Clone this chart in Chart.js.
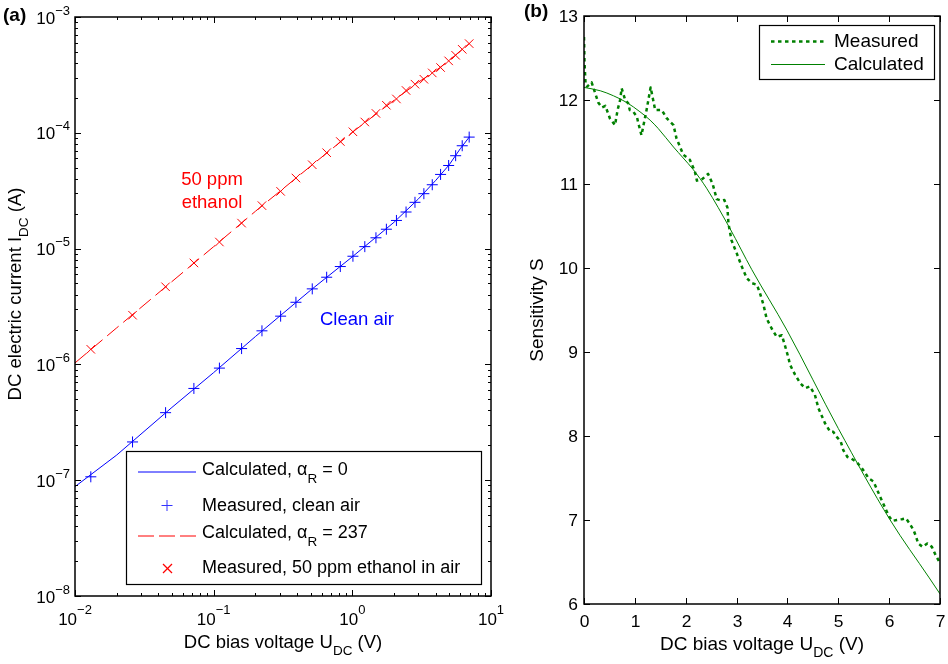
<!DOCTYPE html>
<html>
<head>
<meta charset="utf-8">
<script src="https://cdn.jsdelivr.net/npm/chart.js@4.4.0/dist/chart.umd.min.js"></script>
<style>
  body { margin:0; background:#fff; }
  #wrap { position:relative; width:948px; height:664px; }
  canvas { position:absolute; top:0; }
</style>
</head>
<body>
<div id="wrap">
  <canvas id="ivChart" width="520" height="664" style="left:0;width:520px;height:664px"></canvas>
  <canvas id="sensChart" width="428" height="664" style="left:520px;width:428px;height:664px"></canvas>
</div>
<script>
// (a) current vs voltage, log-log
const measuredU = [0.013, 0.026, 0.045, 0.072, 0.11, 0.159, 0.223, 0.304, 0.392, 0.514, 0.653, 0.819, 1.01,
                   1.23, 1.48, 1.76, 2.08, 2.44, 2.83, 3.28, 3.77, 4.33, 4.95, 5.56, 6.2, 6.96];
const cleanAirI = [1.07e-7, 2.14e-7, 3.83e-7, 6.2e-7, 9.29e-7, 1.37e-6, 1.95e-6, 2.61e-6, 3.44e-6, 4.49e-6, 5.66e-6,
                   7.0e-6, 8.59e-6, 1.04e-5, 1.24e-5, 1.47e-5, 1.75e-5, 2.07e-5, 2.51e-5, 2.98e-5, 3.56e-5, 4.37e-5,
                   5.22e-5, 6.34e-5, 7.73e-5, 9.18e-5];
const ethanolI = [1.35e-6, 2.66e-6, 4.68e-6, 7.52e-6, 1.14e-5, 1.66e-5, 2.35e-5, 3.12e-5, 4.07e-5, 5.30e-5, 6.73e-5,
                  8.41e-5, 1.02e-4, 1.24e-4, 1.47e-4, 1.73e-4, 1.96e-4, 2.32e-4, 2.63e-4, 2.9e-4, 3.29e-4, 3.66e-4,
                  4.18e-4, 4.67e-4, 5.26e-4, 5.89e-4];
const calcU = [0.01, 0.02, 0.05, 0.1, 0.2, 0.5, 1, 2, 3, 4, 5, 6, 7];
const calcCleanI = [8.8e-8, 1.65e-7, 4.25e-7, 8.5e-7, 1.74e-6, 4.37e-6, 8.5e-6, 1.69e-5, 2.69e-5, 3.89e-5, 5.3e-5, 7.28e-5, 9.25e-5];
const calcEthanolI = [1.03e-6, 2.07e-6, 5.19e-6, 1.04e-5, 2.1e-5, 5.15e-5, 1.01e-4, 1.91e-4, 2.74e-4, 3.44e-4, 4.22e-4, 5.08e-4, 5.92e-4];
const ivXTicks = [1e-2, 1e-1, 1, 10];
const ivYTicks = [1e-8, 1e-7, 1e-6, 1e-5, 1e-4, 1e-3];

// (b) sensitivity vs voltage
const sensMeasU = [0, 0.01, 0.03, 0.06, 0.15, 0.21, 0.28, 0.35, 0.42, 0.51, 0.61, 0.66, 0.71, 0.74, 0.81, 0.87, 0.9, 0.97,
                   1.04, 1.07, 1.13, 1.23, 1.31, 1.4, 1.53, 1.63, 1.76, 1.82, 1.89, 1.95, 2.08, 2.18, 2.22, 2.31, 2.44,
                   2.53, 2.61, 2.71, 2.76, 2.82, 2.84, 2.9, 3.0, 3.1, 3.2, 3.3, 3.4, 3.46, 3.53, 3.59, 3.69, 3.79, 3.89,
                   3.95, 4.02, 4.05, 4.15, 4.25, 4.35, 4.44, 4.54, 4.61, 4.74, 4.84, 4.9, 4.97, 5.05, 5.1, 5.18, 5.26,
                   5.36, 5.46, 5.53, 5.59, 5.69, 5.75, 5.82, 5.88, 5.94, 6.0, 6.07, 6.15, 6.25, 6.33, 6.4, 6.48, 6.53,
                   6.57, 6.66, 6.75, 6.84, 6.9, 6.97, 7.0];
const sensMeasS = [12.75, 12.45, 12.2, 12.16, 12.21, 12.1, 11.97, 11.91, 11.93, 11.78, 11.7, 11.88, 12.0, 12.14, 12.0,
                   11.96, 11.88, 11.86, 11.8, 11.72, 11.58, 11.88, 12.15, 11.88, 11.88, 11.78, 11.7, 11.54, 11.44, 11.35,
                   11.29, 11.15, 11.04, 11.05, 11.12, 11.0, 10.82, 10.8, 10.81, 10.72, 10.53, 10.33, 10.18, 10.02, 9.88,
                   9.82, 9.8, 9.7, 9.56, 9.4, 9.28, 9.18, 9.2, 9.08, 8.93, 8.85, 8.73, 8.63, 8.57, 8.59, 8.49, 8.33,
                   8.15, 8.05, 8.05, 7.99, 7.93, 7.83, 7.75, 7.73, 7.69, 7.62, 7.56, 7.5, 7.46, 7.38, 7.28, 7.2, 7.12,
                   7.04, 6.99, 7.0, 7.01, 7.02, 6.96, 6.88, 6.8, 6.72, 6.68, 6.72, 6.68, 6.6, 6.52, 6.48];
const sensCalcU = [0, 0.32, 0.58, 0.84, 1.1, 1.3, 1.46, 1.76, 1.95, 2.15, 2.41, 2.87, 3.3, 3.99, 5.0, 6.02, 6.79, 7.0];
const sensCalcS = [12.15, 12.11, 12.05, 11.97, 11.86, 11.76, 11.66, 11.44, 11.31, 11.17, 10.95, 10.47, 9.98, 9.26, 8.09, 7.0, 6.31, 6.12];
const sensXTicks = [0, 1, 2, 3, 4, 5, 6, 7];
const sensYTicks = [6, 7, 8, 9, 10, 11, 12, 13];

const FONT = '"Liberation Sans", Arial, Helvetica, sans-serif';
const pts = (xs, ys) => xs.map((x, i) => ({x: x, y: ys[i]}));

function richWidth(ctx, parts) {
  let w = 0;
  parts.forEach(p => { ctx.font = (p.bold ? 'bold ' : '') + p.size + 'px ' + FONT; w += ctx.measureText(p.t).width; });
  return w;
}
function drawRich(ctx, parts, x, y, align) {
  const w = richWidth(ctx, parts);
  let cx = align === 'center' ? x - w / 2 : align === 'right' ? x - w : x;
  ctx.textAlign = 'left';
  ctx.textBaseline = 'middle';
  parts.forEach(p => {
    ctx.font = (p.bold ? 'bold ' : '') + p.size + 'px ' + FONT;
    ctx.fillText(p.t, cx, y + (p.dy || 0));
    cx += ctx.measureText(p.t).width;
  });
}
function line(ctx, x1, y1, x2, y2) {
  ctx.beginPath(); ctx.moveTo(x1, y1); ctx.lineTo(x2, y2); ctx.stroke();
}
function powParts(v, dy) {
  const e = Math.round(Math.log10(v));
  return [{t: '10', size: 17}, {t: (e < 0 ? '\u2212' : '') + Math.abs(e), size: 13, dy: dy}];
}

const ivDecor = {
  id: 'ivDecor',
  afterDraw(chart) {
    const ctx = chart.ctx, a = chart.chartArea, xs = chart.scales.x, ys = chart.scales.y;
    ctx.save();
    ctx.strokeStyle = '#000';
    ctx.fillStyle = '#000';
    ctx.lineWidth = 1;
    // minor + major ticks, inward on all sides
    for (let e = -2; e <= 1; e++) {
      for (let m = 1; m <= 9; m++) {
        const v = m * Math.pow(10, e);
        if (v > 10.0001) break;
        const px = Math.round(xs.getPixelForValue(v)) + 0.5;
        const len = m === 1 ? 6 : 3;
        line(ctx, px, a.bottom, px, a.bottom - len);
        line(ctx, px, a.top, px, a.top + len);
      }
    }
    for (let e = -8; e <= -3; e++) {
      for (let m = 1; m <= 9; m++) {
        const v = m * Math.pow(10, e);
        if (v > 1.0001e-3) break;
        const py = Math.round(ys.getPixelForValue(v)) + 0.5;
        const len = m === 1 ? 6 : 3;
        line(ctx, a.left, py, a.left + len, py);
        line(ctx, a.right, py, a.right - len, py);
      }
    }
    ctx.lineWidth = 1.5;
    ctx.strokeRect(a.left, a.top, a.right - a.left, a.bottom - a.top);

    ivXTicks.forEach(v => drawRich(ctx, powParts(v, -10), xs.getPixelForValue(v), a.bottom + 24, 'center'));
    ivYTicks.forEach(v => drawRich(ctx, powParts(v, -8), a.left - 5, ys.getPixelForValue(v) + 2, 'right'));

    drawRich(ctx, [{t: 'DC bias voltage U', size: 18.5}, {t: 'DC', size: 13.5, dy: 8}, {t: ' (V)', size: 18.5}],
             (a.left + a.right) / 2, 643, 'center');
    ctx.save();
    ctx.translate(16, 294);
    ctx.rotate(-Math.PI / 2);
    drawRich(ctx, [{t: 'DC electric current I', size: 18.5}, {t: 'DC', size: 13.5, dy: 8}, {t: ' (A)', size: 18.5}], 0, 0, 'center');
    ctx.restore();

    drawRich(ctx, [{t: '(a)', size: 19, bold: true}], 3, 16, 'left');

    // annotations
    ctx.fillStyle = '#ff0000';
    drawRich(ctx, [{t: '50 ppm', size: 18.5}], 212, 180, 'center');
    drawRich(ctx, [{t: 'ethanol', size: 18.5}], 212, 203, 'center');
    ctx.fillStyle = '#0000ff';
    drawRich(ctx, [{t: 'Clean air', size: 18.5}], 357, 320, 'center');

    // legend
    ctx.fillStyle = '#fff';
    ctx.fillRect(126, 451, 356, 133);
    ctx.strokeStyle = '#000';
    ctx.lineWidth = 1.2;
    ctx.strokeRect(126.5, 451.5, 355, 133);
    ctx.lineWidth = 1;
    ctx.strokeStyle = '#0000ff';
    line(ctx, 138, 472, 196, 472);
    ctx.strokeStyle = '#3333ff';
    line(ctx, 161.5, 505.5, 172.5, 505.5);
    line(ctx, 167, 500, 167, 511);
    ctx.strokeStyle = '#ff0000';
    ctx.setLineDash([16, 5]);
    line(ctx, 138, 536, 196, 536);
    ctx.setLineDash([]);
    ctx.lineWidth = 1.3;
    line(ctx, 163, 564, 172, 573);
    line(ctx, 172, 564, 163, 573);
    ctx.fillStyle = '#000';
    drawRich(ctx, [{t: 'Calculated, \u03b1', size: 18}, {t: 'R', size: 13.5, dy: 9}, {t: ' = 0', size: 18}], 202, 470, 'left');
    drawRich(ctx, [{t: 'Measured, clean air', size: 18}], 202, 506, 'left');
    drawRich(ctx, [{t: 'Calculated, \u03b1', size: 18}, {t: 'R', size: 13.5, dy: 9}, {t: ' = 237', size: 18}], 202, 533, 'left');
    drawRich(ctx, [{t: 'Measured, 50 ppm ethanol in air', size: 18}], 202, 568, 'left');
    ctx.restore();
  }
};

const sensDecor = {
  id: 'sensDecor',
  afterDraw(chart) {
    const ctx = chart.ctx, a = chart.chartArea, xs = chart.scales.x, ys = chart.scales.y;
    ctx.save();
    ctx.strokeStyle = '#000';
    ctx.fillStyle = '#000';
    ctx.lineWidth = 1;
    sensXTicks.forEach(v => {
      const px = Math.round(xs.getPixelForValue(v)) + 0.5;
      line(ctx, px, a.bottom, px, a.bottom - 6);
      line(ctx, px, a.top, px, a.top + 6);
      drawRich(ctx, [{t: String(v), size: 17.4}], px, a.bottom + 18, 'center');
    });
    sensYTicks.forEach(v => {
      const py = Math.round(ys.getPixelForValue(v)) + 0.5;
      line(ctx, a.left, py, a.left + 6, py);
      line(ctx, a.right, py, a.right - 6, py);
      drawRich(ctx, [{t: String(v), size: 17.4}], a.left - 6, py + 1, 'right');
    });
    ctx.lineWidth = 1.5;
    ctx.strokeRect(a.left, a.top, a.right - a.left, a.bottom - a.top);

    drawRich(ctx, [{t: 'DC bias voltage U', size: 19}, {t: 'DC', size: 14, dy: 8}, {t: ' (V)', size: 19}],
             (a.left + a.right) / 2, 645, 'center');
    ctx.save();
    ctx.translate(18, (a.top + a.bottom) / 2);
    ctx.rotate(-Math.PI / 2);
    drawRich(ctx, [{t: 'Sensitivity S', size: 19}], 0, 0, 'center');
    ctx.restore();

    drawRich(ctx, [{t: '(b)', size: 19, bold: true}], 4, 12, 'left');

    // legend
    ctx.fillStyle = '#fff';
    ctx.fillRect(239, 25, 175, 54);
    ctx.lineWidth = 1.2;
    ctx.strokeRect(239.5, 25.5, 175, 54);
    ctx.strokeStyle = '#008000';
    ctx.lineWidth = 2.5;
    ctx.setLineDash([3.5, 3.5]);
    line(ctx, 251, 41.5, 305, 41.5);
    ctx.setLineDash([]);
    ctx.lineWidth = 1;
    line(ctx, 251, 64.5, 305, 64.5);
    ctx.fillStyle = '#000';
    drawRich(ctx, [{t: 'Measured', size: 19}], 314, 42, 'left');
    drawRich(ctx, [{t: 'Calculated', size: 19}], 314, 65, 'left');
    ctx.restore();
  }
};

new Chart(document.getElementById('ivChart'), {
  type: 'scatter',
  data: {
    datasets: [
      {label: 'Calculated, alphaR = 0', data: pts(calcU, calcCleanI), showLine: true, borderColor: '#0000ff',
       borderWidth: 1, pointRadius: 0},
      {label: 'Measured, clean air', data: pts(measuredU, cleanAirI), showLine: false, pointStyle: 'cross',
       pointRadius: 5.5, borderColor: '#0000ff', borderWidth: 1},
      {label: 'Calculated, alphaR = 237', data: pts(calcU, calcEthanolI), showLine: true, borderColor: '#ff0000',
       borderWidth: 1, borderDash: [15, 6], pointRadius: 0},
      {label: 'Measured, 50 ppm ethanol in air', data: pts(measuredU, ethanolI), showLine: false, pointStyle: 'crossRot',
       pointRadius: 6, borderColor: '#ff0000', borderWidth: 1}
    ]
  },
  options: {
    responsive: false,
    animation: false,
    devicePixelRatio: 1,
    layout: {padding: {left: 75, right: 29, top: 17, bottom: 68}},
    scales: {
      x: {type: 'logarithmic', min: 0.01, max: 10, display: false},
      y: {type: 'logarithmic', min: 1e-8, max: 1e-3, display: false}
    },
    plugins: {legend: {display: false}, tooltip: {enabled: false}}
  },
  plugins: [ivDecor]
});

new Chart(document.getElementById('sensChart'), {
  type: 'scatter',
  data: {
    datasets: [
      {label: 'Measured', data: pts(sensMeasU, sensMeasS), showLine: true, borderColor: '#008000',
       borderWidth: 2.5, borderDash: [3.5, 3.5], borderJoinStyle: 'round', pointRadius: 0},
      {label: 'Calculated', data: pts(sensCalcU, sensCalcS), showLine: true, borderColor: '#008000',
       borderWidth: 1, pointRadius: 0, cubicInterpolationMode: 'monotone'}
    ]
  },
  options: {
    responsive: false,
    animation: false,
    devicePixelRatio: 1,
    layout: {padding: {left: 64, right: 8, top: 16, bottom: 60}},
    scales: {
      x: {type: 'linear', min: 0, max: 7, display: false},
      y: {type: 'linear', min: 6, max: 13, display: false}
    },
    plugins: {legend: {display: false}, tooltip: {enabled: false}}
  },
  plugins: [sensDecor]
});
</script>
</body>
</html>
